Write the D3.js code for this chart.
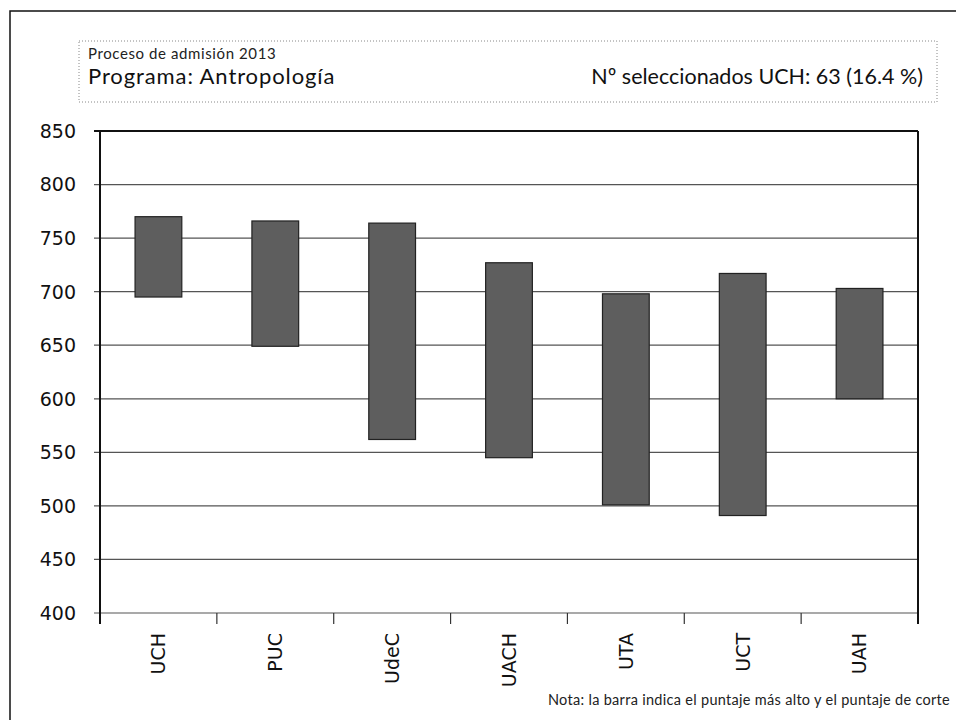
<!DOCTYPE html>
<html>
<head>
<meta charset="utf-8">
<script src="https://cdn.jsdelivr.net/npm/d3@7"></script>
<style>
  body { margin: 0; background: #fff; }
  svg { display: block; }
</style>
</head>
<body>
<svg id="chart" width="956" height="720"></svg>
<script>
// data
const categories = ["UCH", "PUC", "UdeC", "UACH", "UTA", "UCT", "UAH"];
const maxScores = [770, 766, 764, 727, 698, 717, 703];   // puntaje más alto
const cutScores = [695, 649, 562, 545, 501, 491, 600];   // puntaje de corte
const yTicks = [400, 450, 500, 550, 600, 650, 700, 750, 800, 850];

const headerSmall = "Proceso de admisión 2013";
const headerLeft = "Programa: Antropología";
const headerRight = "Nº seleccionados UCH: 63 (16.4 %)";
const note = "Nota: la barra indica el puntaje más alto y el puntaje de corte";

let svg = d3.select("#chart");
let margin = { top: 131, right: 38, bottom: 107, left: 100 };
const width = +svg.attr("width");
const height = +svg.attr("height");
const plotW = width - margin.left - margin.right;
const plotH = height - margin.top - margin.bottom;

// outer border of the scanned page
svg.append("path")
    .attr("d", "M10,720 V11 H956")
    .attr("fill", "none")
    .attr("stroke", "#111")
    .attr("stroke-width", 1.5);

// header box
svg.append("rect")
    .attr("x", 79).attr("y", 41)
    .attr("width", 858).attr("height", 61)
    .attr("fill", "none")
    .attr("stroke", "#888")
    .attr("stroke-width", 1)
    .attr("stroke-dasharray", "1,2");

svg.append("text")
    .attr("x", 88).attr("y", 59)
    .attr("font-family", "Lato")
    .attr("font-size", 15)
    .attr("letter-spacing", 0.6)
    .attr("fill", "#222")
    .text(headerSmall);

svg.append("text")
    .attr("x", 88).attr("y", 84)
    .attr("font-family", "Lato")
    .attr("font-size", 22)
    .attr("letter-spacing", 0.9)
    .attr("fill", "#111")
    .text(headerLeft);

svg.append("text")
    .attr("x", 923).attr("y", 84)
    .attr("text-anchor", "end")
    .attr("font-family", "Lato")
    .attr("font-size", 21.5)
    .attr("fill", "#111")
    .text(headerRight);

const g = svg.append("g")
    .attr("transform", "translate(" + margin.left + "," + margin.top + ")");

const x = d3.scaleBand()
    .domain(categories)
    .range([0, plotW])
    .padding(0);

const y = d3.scaleLinear()
    .domain([400, 850])
    .range([plotH, 0]);

// gridlines
g.selectAll(".grid")
    .data(yTicks)
    .enter()
    .append("line")
    .attr("class", "grid")
    .attr("x1", -6)
    .attr("x2", plotW)
    .attr("y1", d => y(d))
    .attr("y2", d => y(d))
    .attr("stroke", d => d === 850 ? "#111" : "#555")
    .attr("stroke-width", d => d === 850 ? 2 : 1.2);

// y tick labels
g.selectAll(".ylab")
    .data(yTicks)
    .enter()
    .append("text")
    .attr("class", "ylab")
    .attr("x", -24)
    .attr("y", d => y(d))
    .attr("dy", "0.36em")
    .attr("text-anchor", "end")
    .attr("font-family", "DejaVu Sans")
    .attr("font-size", 19)
    .attr("fill", "#111")
    .text(d => d);

// bars
const barW = x.bandwidth() * 0.4;
g.selectAll(".bar")
    .data(categories)
    .enter()
    .append("rect")
    .attr("class", "bar")
    .attr("x", d => x(d) + (x.bandwidth() - barW) / 2)
    .attr("y", (d, i) => y(maxScores[i]))
    .attr("width", barW)
    .attr("height", (d, i) => y(cutScores[i]) - y(maxScores[i]))
    .attr("fill", "#5e5e5e")
    .attr("stroke", "#222")
    .attr("stroke-width", 1.2);

// category boundary ticks
g.selectAll(".xtick")
    .data(categories)
    .enter()
    .append("line")
    .attr("class", "xtick")
    .attr("x1", d => x(d) + x.bandwidth())
    .attr("x2", d => x(d) + x.bandwidth())
    .attr("y1", plotH)
    .attr("y2", plotH + 11)
    .attr("stroke", "#333")
    .attr("stroke-width", 1.2);

// left axis and right frame
g.append("line")
    .attr("x1", 0).attr("x2", 0)
    .attr("y1", 0).attr("y2", plotH + 11)
    .attr("stroke", "#111")
    .attr("stroke-width", 2);

g.append("line")
    .attr("x1", plotW).attr("x2", plotW)
    .attr("y1", 0).attr("y2", plotH + 11)
    .attr("stroke", "#111")
    .attr("stroke-width", 2);

// category labels, rotated
g.selectAll(".xlab")
    .data(categories)
    .enter()
    .append("text")
    .attr("class", "xlab")
    .attr("transform", d => "translate(" + (x(d) + x.bandwidth() / 2) + "," + (plotH + 20) + ") rotate(-90)")
    .attr("dy", "0.36em")
    .attr("text-anchor", "end")
    .attr("font-family", "DejaVu Sans")
    .attr("font-size", 19)
    .attr("fill", "#111")
    .text(d => d);

// footnote
svg.append("text")
    .attr("x", 950).attr("y", 705)
    .attr("text-anchor", "end")
    .attr("font-family", "Lato")
    .attr("font-size", 14.5)
    .attr("letter-spacing", 0.3)
    .attr("fill", "#222")
    .text(note);
</script>
</body>
</html>
